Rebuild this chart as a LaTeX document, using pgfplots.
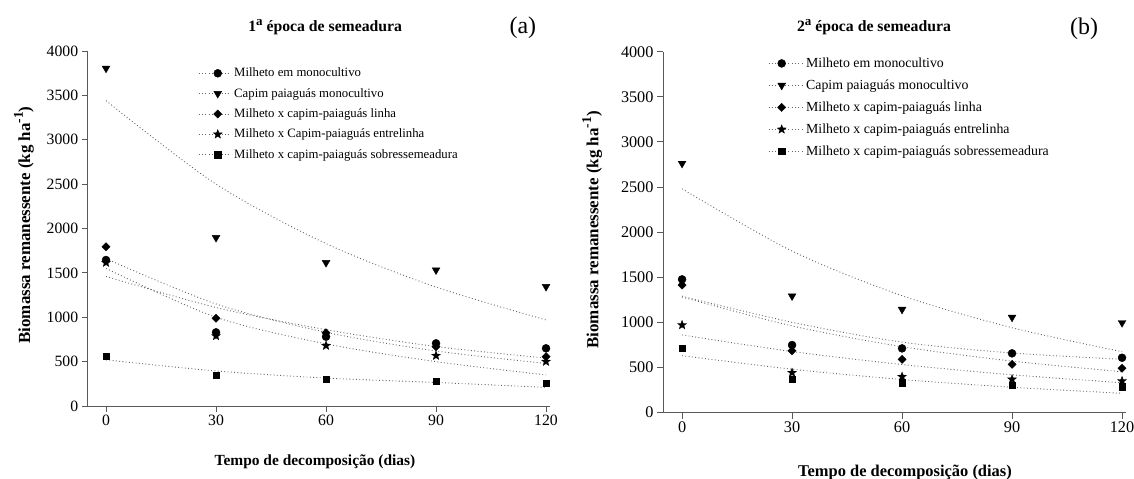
\documentclass[border=0pt]{standalone}
\usepackage{fontspec}
\setmainfont{Liberation Serif}
\usepackage{pgfplots}
\pgfplotsset{compat=1.18}

% filled five-point star mark
\pgfdeclareplotmark{fstar}{%
  \pgfpathmoveto{\pgfpointpolar{90}{\pgfplotmarksize}}%
  \pgfpathlineto{\pgfpointpolar{126}{0.42\pgfplotmarksize}}%
  \pgfpathlineto{\pgfpointpolar{162}{\pgfplotmarksize}}%
  \pgfpathlineto{\pgfpointpolar{198}{0.42\pgfplotmarksize}}%
  \pgfpathlineto{\pgfpointpolar{234}{\pgfplotmarksize}}%
  \pgfpathlineto{\pgfpointpolar{270}{0.42\pgfplotmarksize}}%
  \pgfpathlineto{\pgfpointpolar{306}{\pgfplotmarksize}}%
  \pgfpathlineto{\pgfpointpolar{342}{0.42\pgfplotmarksize}}%
  \pgfpathlineto{\pgfpointpolar{18}{\pgfplotmarksize}}%
  \pgfpathlineto{\pgfpointpolar{54}{0.42\pgfplotmarksize}}%
  \pgfpathclose
  \pgfusepathqfillstroke
}

% raised superscripts
\newcommand{\upa}{\raisebox{0.38em}{\fontsize{13}{13}\selectfont a}}
\newcommand{\upm}{\raisebox{0.42em}{\fontsize{13.5}{13.5}\selectfont -1}}

\pgfplotsset{
  panel/.style={
    scale only axis, clip=false,
    axis x line*=bottom, axis y line*=left,
    xmin=-5, xmax=121, ymin=0, ymax=4000,
    xtick={0,30,60,90,120}, ytick={0,500,...,4000},
    tick align=outside, major tick length=6bp,
    axis line style={black!65, line width=0.9bp},
    tick style={black!65, line width=0.9bp},
    /pgf/number format/assume math mode=true,
    /pgf/number format/1000 sep={},
    scaled y ticks=false,
    legend cell align=left,
  },
  fit/.style={black!60, line width=0.9bp, dash pattern=on 0.9bp off 2.4bp,
    smooth, no marks, forget plot},
  pts/.style={only marks, black, mark options={solid, fill=black, draw=black}},
  mcirc/.style={pts, mark=*, mark size=4bp},
  mtri/.style={pts, mark=triangle*, mark size=4.5bp, mark options={rotate=180}},
  mdia/.style={pts, mark=square*, mark size=2.9bp, mark options={rotate=45}},
  mstar/.style={pts, mark=fstar, mark size=4.6bp},
  msq/.style={pts, mark=square*, mark size=3.2bp},
}

\begin{document}
\begin{tikzpicture}
\path[use as bounding box] (0,0) rectangle (1134bp,-479bp);

% ---------------- (a) ----------------
\begin{axis}[panel,
  at={(87.7bp,-406bp)}, anchor=south west,
  width=462bp, height=355bp,
  tick label style={font=\fontsize{15.8}{16}\selectfont},
  legend style={at={(axis description cs:0.239,0.958)}, anchor=north west,
    draw=none, fill=none, inner xsep=0pt, inner ysep=0pt, row sep=6bp,
    font=\fontsize{12.8}{13}\selectfont},
  legend image code/.code={%
    \draw[black!60, line width=0.9bp, dash pattern=on 0.9bp off 2.4bp] (0bp,0bp) -- (33bp,0bp);
    \draw plot coordinates {(19bp,0bp)};},
]
\addplot[fit] coordinates {(0,1460) (30,1110) (60,860) (90,670) (120,540)};
\addplot[fit] coordinates {(0,3440) (30,2500) (60,1830) (90,1340) (120,970)};
\addplot[fit] coordinates {(0,1660) (30,1150) (60,830) (90,620) (120,480)};
\addplot[fit] coordinates {(0,1550) (30,1000) (60,700) (90,500) (120,350)};
\addplot[fit] coordinates {(0,520) (30,395) (60,315) (90,265) (120,210)};

\addplot[mcirc] coordinates {(0,1645) (30,830) (60,781) (90,706) (120,650)};
\addlegendentry{Milheto em monocultivo}
\addplot[mtri] coordinates {(0,3805) (30,1897) (60,1615) (90,1532) (120,1345)};
\addlegendentry{Capim paiaguás monocultivo}
\addplot[mdia] coordinates {(0,1795) (30,988) (60,826) (90,668) (120,556)};
\addlegendentry{Milheto x capim-paiaguás linha}
\addplot[mstar] coordinates {(0,1615) (30,789) (60,680) (90,567) (120,500)};
\addlegendentry{Milheto x Capim-paiaguás entrelinha}
\addplot[msq] coordinates {(0,563) (30,349) (60,304) (90,282) (120,255)};
\addlegendentry{Milheto x capim-paiaguás sobressemeadura}

\node[anchor=base] at (axis description cs:0.514,1.054)
  {\fontsize{15.8}{16}\selectfont\bfseries 1\upa{} época de semeadura};
\node[anchor=base] at (axis description cs:0.942,1.048)
  {\fontsize{24}{24}\selectfont (a)};
\node[rotate=90] at (axis description cs:-0.138,0.51)
  {\fontsize{17}{17}\selectfont\bfseries Biomassa remanessente (kg ha\upm)};
\node at (axis description cs:0.492,-0.157)
  {\fontsize{15.5}{16}\selectfont\bfseries Tempo de decomposição (dias)};
\end{axis}

% ---------------- (b) ----------------
\begin{axis}[panel,
  at={(663bp,-412.5bp)}, anchor=south west,
  width=462.7bp, height=360.8bp,
  xmin=-5.2,
  tick label style={font=\fontsize{16.3}{17}\selectfont},
  legend style={at={(axis description cs:0.227,0.989)}, anchor=north west,
    draw=none, fill=none, inner xsep=0pt, inner ysep=0pt, row sep=6.9bp,
    font=\fontsize{13.9}{14}\selectfont},
  legend image code/.code={%
    \draw[black!60, line width=0.9bp, dash pattern=on 0.9bp off 2.4bp] (0bp,0bp) -- (35bp,0bp);
    \draw plot coordinates {(13bp,0bp)};},
]
\addplot[fit] coordinates {(0,1290) (30,1000) (60,780) (90,660) (120,590)};
\addplot[fit] coordinates {(0,2480) (30,1790) (60,1295) (90,940) (120,674)};
\addplot[fit] coordinates {(0,1280) (30,960) (60,730) (90,570) (120,452)};
\addplot[fit] coordinates {(0,860) (30,676) (60,532) (90,418) (120,330)};
\addplot[fit] coordinates {(0,630) (30,480) (60,366) (90,280) (120,213)};

\addplot[mcirc] coordinates {(0,1476) (30,748) (60,711) (90,656) (120,607)};
\addlegendentry{Milheto em monocultivo}
\addplot[mtri] coordinates {(0,2761) (30,1291) (60,1143) (90,1055) (120,995)};
\addlegendentry{Capim paiaguás monocultivo}
\addplot[mdia] coordinates {(0,1413) (30,685) (60,589) (90,534) (120,490)};
\addlegendentry{Milheto x capim-paiaguás linha}
\addplot[mstar] coordinates {(0,970) (30,441) (60,397) (90,368) (120,349)};
\addlegendentry{Milheto x capim-paiaguás entrelinha}
\addplot[msq] coordinates {(0,711) (30,368) (60,330) (90,305) (120,286)};
\addlegendentry{Milheto x capim-paiaguás sobressemeadura}

\node[anchor=base] at (axis description cs:0.456,1.055)
  {\fontsize{15.8}{16}\selectfont\bfseries 2\upa{} época de semeadura};
\node[anchor=base] at (axis description cs:0.91,1.049)
  {\fontsize{24}{24}\selectfont (b)};
\node[rotate=90] at (axis description cs:-0.153,0.506)
  {\fontsize{17}{17}\selectfont\bfseries Biomassa remanessente (kg ha\upm)};
\node at (axis description cs:0.523,-0.165)
  {\fontsize{16.5}{17}\selectfont\bfseries Tempo de decomposição (dias)};
\end{axis}
\end{tikzpicture}
\end{document}
